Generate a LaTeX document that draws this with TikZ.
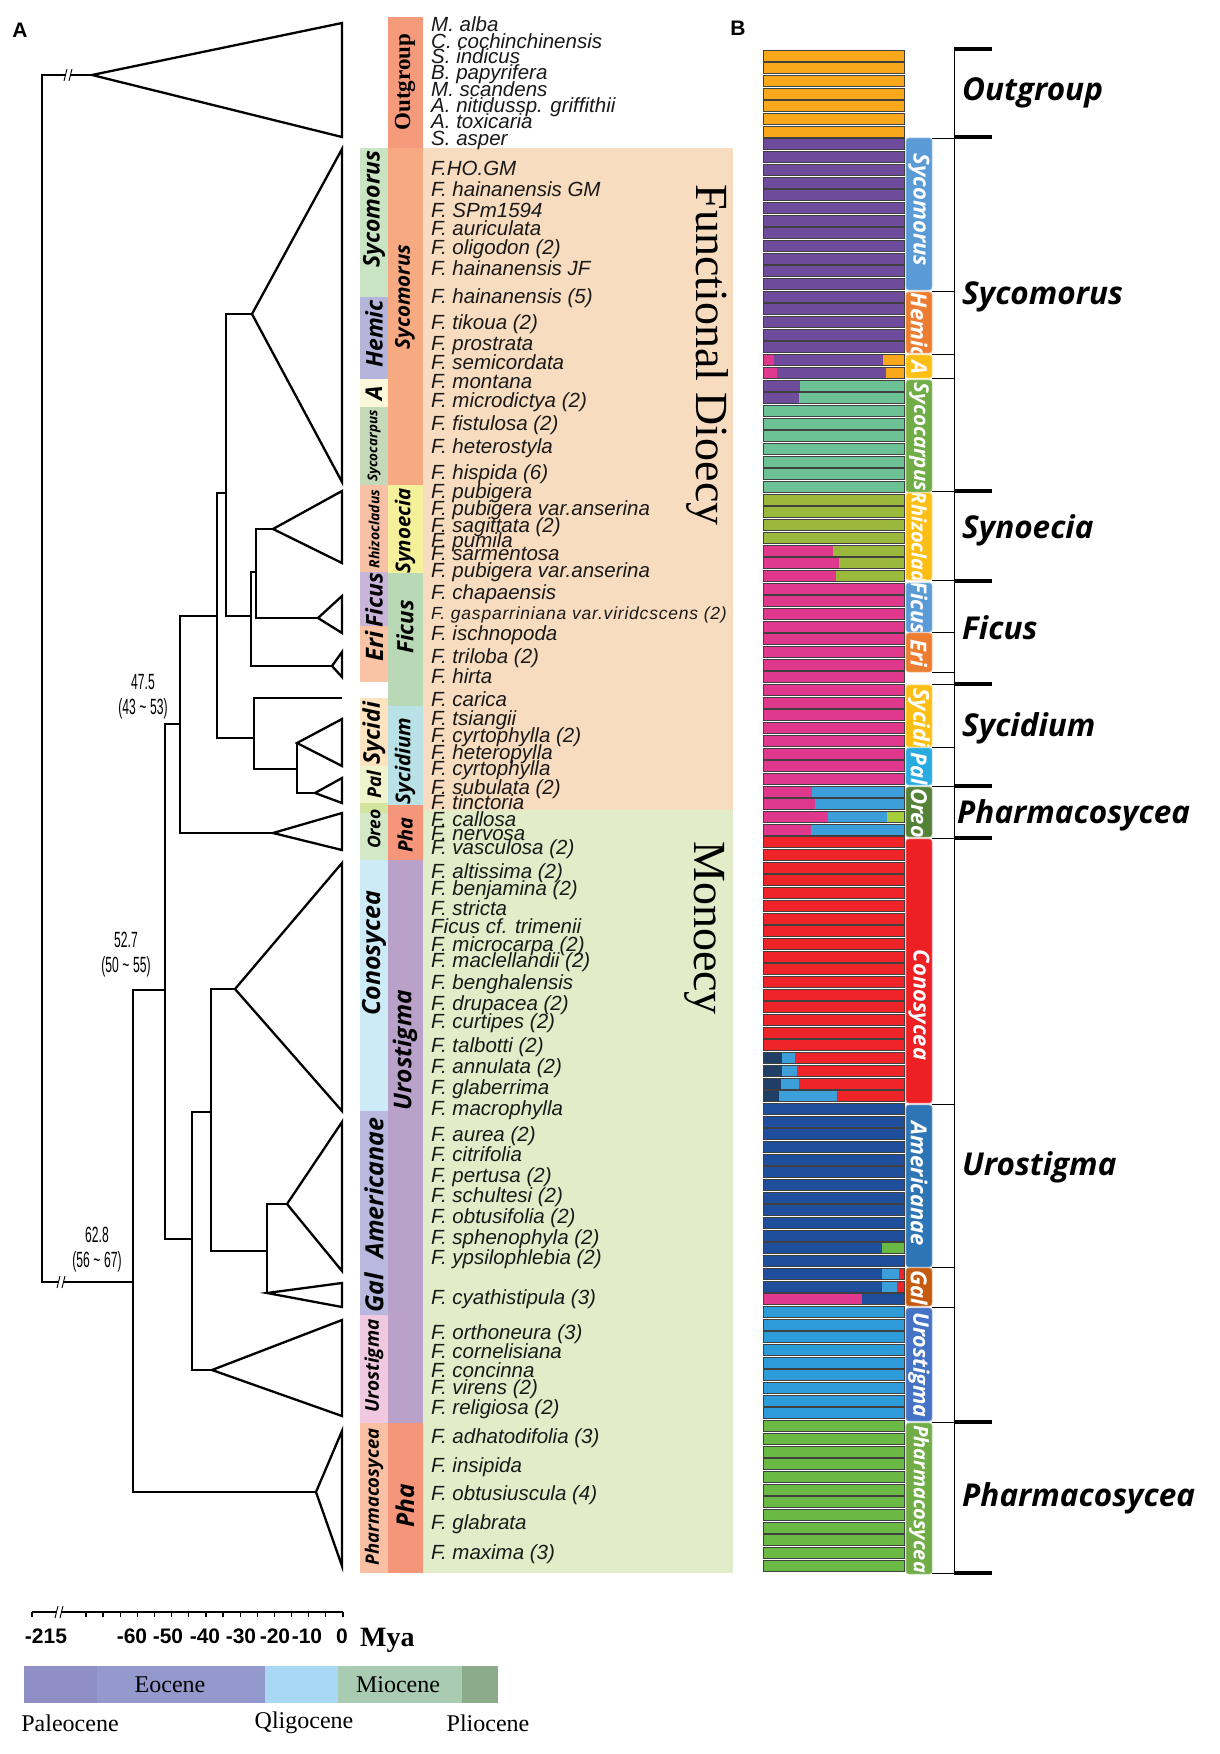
\documentclass[tikz,border=0pt]{standalone}
\usepackage{fontspec}
\setmainfont{Liberation Serif}
\setsansfont{Liberation Sans}
\newfontfamily\labfont{Open Sans}
\newfontfamily\narrowfont[FakeStretch=0.55]{Liberation Sans}
\usetikzlibrary{positioning}
% panel A
\definecolor{dioecy}{HTML}{F8DCBF}
\definecolor{monoecy}{HTML}{E3ECC8}
\definecolor{aSy}{HTML}{C9E4C3}\definecolor{aHe}{HTML}{B5B5DC}\definecolor{aA}{HTML}{FCF8DC}
\definecolor{aSc}{HTML}{C5D9B9}\definecolor{aRh}{HTML}{F8C1A6}\definecolor{aFi}{HTML}{C9B5DA}
\definecolor{aEr}{HTML}{F9C3A5}\definecolor{aSd}{HTML}{FDE3BF}\definecolor{aPa}{HTML}{F0F4CC}
\definecolor{aBd}{HTML}{D5E3A0}\definecolor{aOr}{HTML}{D2E8C6}\definecolor{aCo}{HTML}{CDEBF6}
\definecolor{aAm}{HTML}{B9B8DE}\definecolor{aUr}{HTML}{F0C8E0}\definecolor{aPh}{HTML}{FBC0A3}
\definecolor{bOut}{HTML}{F59A7B}\definecolor{bSy}{HTML}{F7A982}\definecolor{bSn}{HTML}{F5F19B}
\definecolor{bFi}{HTML}{B8D8B6}\definecolor{bSd}{HTML}{B8E2E6}\definecolor{bPh}{HTML}{F5967A}
\definecolor{bUr}{HTML}{B9A1CA}
% panel B bars
\definecolor{cOr}{HTML}{F9A81B}\definecolor{cPu}{HTML}{6E4C9B}\definecolor{cPk}{HTML}{E0388D}
\definecolor{cTe}{HTML}{6CC295}\definecolor{cOl}{HTML}{9AB93C}\definecolor{cLb}{HTML}{3D9FDA}
\definecolor{cLi}{HTML}{A5CF3A}\definecolor{cRe}{HTML}{EE2428}\definecolor{cNv}{HTML}{213E67}
\definecolor{cBl}{HTML}{1F4E9C}\definecolor{cGr}{HTML}{6AB944}\definecolor{cUb}{HTML}{2D9BD7}
% panel B tabs
\definecolor{tBl}{HTML}{5B9BD5}\definecolor{tOr}{HTML}{ED7D31}\definecolor{tGo}{HTML}{FDBE16}
\definecolor{tGr}{HTML}{70AD47}\definecolor{tSk}{HTML}{29ABE2}\definecolor{tDg}{HTML}{538135}
\definecolor{tRe}{HTML}{ED2024}\definecolor{tAm}{HTML}{2E75B6}\definecolor{tBr}{HTML}{C55A11}
\definecolor{tUr}{HTML}{4472C4}
% epochs
\definecolor{ePa}{HTML}{8F8FC6}\definecolor{eEo}{HTML}{9399CC}\definecolor{eOl}{HTML}{A8D8F3}
\definecolor{eMi}{HTML}{A9CBB1}\definecolor{ePl}{HTML}{8CAB88}

% one admixture bar: row index, list of end-fraction/colour
\newcommand\barrow[2]{%
  \pgfmathsetmacro\bartop{50+12.69*#1}%
  \foreach \fr/\bc [remember=\fr as \lf (initially 0)] in {#2}{%
    \fill[\bc] ({763+141*\lf},\bartop) rectangle ({763+141*\fr},{\bartop+11});}%
  \draw[barline] (763,\bartop) rectangle (904,{\bartop+11});%
}

\begin{document}
\begin{tikzpicture}[x=1pt, y=-1pt,
  tree/.style={line width=2.3pt},
  tri/.style={line width=2.3pt, line join=miter},
  brk/.style={line width=0.9pt},
  sp/.style={anchor=mid west, inner sep=0pt, yshift=-4pt, text=black!90, font=\sffamily\itshape\fontsize{20.5}{20.5}\selectfont},
  clab/.style={rotate=90, inner sep=0pt, font=\labfont\bfseries\itshape\fontsize{#1}{#1}\selectfont},
  tablab/.style={rotate=-90, inner sep=0pt, text=white, font=\labfont\bfseries\itshape\fontsize{#1}{#1}\selectfont},
  grp/.style={anchor=west, inner sep=0pt, font=\labfont\bfseries\itshape\fontsize{31.5}{31.5}\selectfont},
  age/.style={align=center, inner sep=0pt, font=\narrowfont\fontsize{22}{25}\selectfont},
  barline/.style={draw=black!75, line width=0.8pt},
  axlab/.style={inner sep=0pt, font=\sffamily\bfseries\fontsize{21}{21}\selectfont},
  epoch/.style={inner sep=0pt, font=\fontsize{24}{24}\selectfont}]
\useasboundingbox[fill=white] (0,0) rectangle (1220,1754);

% ---------- A: coloured columns and name panel
\fill[dioecy] (423,148) rectangle (733,810);
\fill[monoecy] (423,810) rectangle (733,1573);
\foreach \ya/\yb/\cc in {148/297/aSy, 297/379/aHe, 379/407/aA, 407/485/aSc, 485/572/aRh,
  572/626/aFi, 626/682/aEr, 698/766/aSd, 766/803/aPa, 803/813/aBd, 813/860/aOr,
  860/1111/aCo, 1111/1315/aAm, 1315/1423/aUr, 1423/1573/aPh}
  \fill[\cc] (360,\ya) rectangle (388,\yb);
\foreach \ya/\yb/\cc in {17/148/bOut, 148/485/bSy, 485/573/bSn, 573/706/bFi, 706/805/bSd,
  805/860/bPh, 860/1423/bUr, 1423/1573/bPh}
  \fill[\cc] (388,\ya) rectangle (423,\yb);

% column labels
\foreach \y/\t/\s [count=\k] in {209/Sycomorus/23, 334/Hemic/23, 393/A/23, 446/Sycocarpus/13.5,
  529/Rhizocladus/14, 600/Ficus/23, 646/Eri/24, 733/Sycidi/23, 785/Pal/19, 829/Oreo/17.5,
  953/Conosycea/25, 1188/Americanae/25, 1293/Gal/25, 1366/Urostigma/19, 1497/Pharmacosycea/18.5}
  \node[clab=\s] (ca\k) at (374,\y) {\t};
\node[rotate=90, inner sep=0pt, font=\bfseries\fontsize{23}{23}\selectfont] (cout) at (405,82) {Outgroup};
\foreach \y/\t/\s [count=\k] in {297/Sycomorus/20.5, 531/Synoecia/20.5, 627/Ficus/22.5, 761/Sycidium/20.5,
  835/Pha/20, 1050/Urostigma/24.5, 1506/Pha/24.5}
  \node[clab=\s] (cb\k) at (405,\y) {\t};

\node[rotate=-90, inner sep=0pt, font=\fontsize{46}{46}\selectfont] (dio) at (707,355) {Functional Dioecy};
\node[rotate=-90, inner sep=0pt, font=\fontsize{46}{46}\selectfont] (mon) at (705,928) {Monoecy};

% species
\foreach \y/\t [count=\k] in {25/M. alba, 42/C. cochinchinensis, 57/S. indicus, 73/B. papyrifera,
  90/M. scandens, 106/A. nitidussp. griffithii, 122/A. toxicaria, 139/S. asper,
  169/F.HO.GM, 190/F. hainanensis GM, 211/F. SPm1594, 229/F. auriculata, 248/F. oligodon (2),
  269/F. hainanensis JF, 297/F. hainanensis (5), 323/F. tikoua (2), 344/F. prostrata,
  363/F. semicordata, 382/F. montana, 401/F. microdictya (2), 424/F. fistulosa (2),
  447/F. heterostyla, 473/F. hispida (6), 492/F. pubigera, 509/F. pubigera var.anserina,
  526/F. sagittata (2), 541/F. pumila, 554/F. sarmentosa, 571/F. pubigera var.anserina,
  593/F. chapaensis, 634/F. ischnopoda, 657/F. triloba (2), 677/F. hirta, 700/F. carica,
  719/F. tsiangii, 736/F. cyrtophylla (2), 753/F. heteropylla, 769/F. cyrtophylla,
  788/F. subulata (2), 803/F. tinctoria, 820/F. callosa, 834/F. nervosa, 848/F. vasculosa (2),
  872/F. altissima (2), 889/F. benjamina (2), 909/F. stricta, 927/Ficus cf. trimenii,
  945/F. microcarpa (2), 961/F. maclellandii (2), 983/F. benghalensis, 1004/F. drupacea (2),
  1022/F. curtipes (2), 1046/F. talbotti (2), 1067/F. annulata (2), 1088/F. glaberrima,
  1109/F. macrophylla, 1135/F. aurea (2), 1155/F. citrifolia, 1176/F. pertusa (2),
  1196/F. schultesi (2), 1217/F. obtusifolia (2), 1238/F. sphenophyla (2), 1258/F. ypsilophlebia (2),
  1298/F. cyathistipula (3), 1333/F. orthoneura (3), 1352/F. cornelisiana, 1371/F. concinna,
  1388/F. virens (2), 1408/F. religiosa (2), 1437/F. adhatodifolia (3), 1466/F. insipida,
  1494/F. obtusiuscula (4), 1523/F. glabrata, 1553/F. maxima (3)}
  \node[sp] (sp\k) at (431,\y) {\t};
\node[sp, font=\sffamily\itshape\fontsize{17.5}{17.5}\selectfont\addfontfeature{LetterSpace=4.5}] (gasp) at (431,613) {F. gasparriniana var.viridcscens (2)};

% ---------- A: tree
\coordinate (og) at (92,75);    \coordinate (r) at (42,75);
\coordinate (n628) at (133,1282); \coordinate (pha) at (316,1492);
\coordinate (n527) at (165,990);  \coordinate (n475) at (180,724);
\coordinate (oreo) at (273,833);  \coordinate (nA) at (217,616);
\coordinate (nB) at (226,493);    \coordinate (syc) at (252,314);
\coordinate (nC) at (251,616);    \coordinate (nD) at (256,572);
\coordinate (rhi) at (273,529);   \coordinate (fic) at (318,618);
\coordinate (eri) at (332,666);   \coordinate (nE) at (254,738);
\coordinate (car) at (342,698);   \coordinate (nF) at (297,769);
\coordinate (syd) at (297,743);   \coordinate (pal) at (315,793);
\coordinate (nG) at (192,1239);   \coordinate (nH) at (211,1112);
\coordinate (con) at (235,989);   \coordinate (nI) at (267,1251);
\coordinate (ame) at (287,1204);  \coordinate (gal) at (267,1293);
\coordinate (uro) at (212,1370);
\draw[tree] (og) -| (r) |- (n628);
\draw[tree] (pha) -| (n628) |- (n527);
\draw[tree] (n475) -| (n527) |- (nG);
\draw[tree] (nA) -| (n475) |- (oreo);
\draw[tree] (nB) -| (nA) |- (nE);
\draw[tree] (syc) -| (nB) |- (nC);
\draw[tree] (nD) -| (nC) |- (eri);
\draw[tree] (rhi) -| (nD) |- (fic);
\draw[tree] (car) -| (nE) |- (nF);
\draw[tree] (syd) -| (nF) |- (pal);
\draw[tree] (nH) -| (nG) |- (uro);
\draw[tree] (con) -| (nH) |- (nI);
\draw[tree] (ame) -| (nI) |- (gal);
\foreach \a/\t/\b in {og/23/137, syc/149/482, rhi/491/563, fic/596/633, eri/652/677, syd/719/766,
  pal/778/803, oreo/813/850, con/863/1111, ame/1122/1271, gal/1283/1307, uro/1320/1416, pha/1431/1566}
  \draw[tri] (\a) -- (342,\t) -- (342,\b) -- cycle;
% break marks
\fill[white] (66,72) rectangle (71,78);
\draw[brk] (64,81) -- (67,69) (69,81) -- (72,69);
\fill[white] (59,1279) rectangle (64,1285);
\draw[brk] (57,1288) -- (60,1276) (62,1288) -- (65,1276);

% ages
\node[age] (a475) at (143,697) {47.5\\(43\,\textasciitilde\,53)};
\node[age] (a527) at (126,955) {52.7\\(50\,\textasciitilde\,55)};
\node[age] (a628) at (97,1250) {62.8\\(56\,\textasciitilde\,67)};

% ---------- time axis and epochs
\draw[line width=1.8pt] (32,1612) -- (343,1612);
\draw[line width=1.3pt] (32,1612) -- (32,1617);
\foreach \k in {0,...,15} \draw[line width=1.3pt] ({86+17.13*\k},1612) -- ({86+17.13*\k},1617);
\fill[white] (57,1608) rectangle (61,1616);
\draw[brk] (55,1618) -- (58,1606) (60,1618) -- (63,1606);
\foreach \x/\t [count=\k] in {46/-215, 132/-60, 168/-50, 205/-40, 241/-30, 275/-20, 307/-10, 342/0}
  \node[axlab] (ax\k) at (\x,1636) {\t};
\node[anchor=west, inner sep=0pt, font=\bfseries\fontsize{28}{28}\selectfont] (mya) at (360,1640) {Mya};
\fill[ePa] (24,1666) rectangle (97,1703);
\fill[eEo] (97,1666) rectangle (265,1703);
\fill[eOl] (265,1666) rectangle (338,1703);
\fill[eMi] (338,1666) rectangle (462,1703);
\fill[ePl] (462,1666) rectangle (498,1703);
\node[epoch] (eo) at (170,1685) {Eocene};
\node[epoch] (mi) at (398,1685) {Miocene};
\node[epoch] (pa) at (70,1723) {Paleocene};
\node[epoch] (ol) at (304,1723) {Qligocene};
\node[epoch] (pl) at (488,1723) {Pliocene};

% panel letters
\node[inner sep=0pt, font=\sffamily\bfseries\fontsize{21}{21}\selectfont] (pA) at (20,30) {A};
\node[inner sep=0pt, font=\sffamily\bfseries\fontsize{21}{21}\selectfont] (pB) at (738,28) {B};

% ---------- B: admixture bars
\foreach \i in {0,...,6} {\barrow{\i}{1/cOr}}
\foreach \i in {7,...,23} {\barrow{\i}{1/cPu}}
\barrow{24}{0.078/cPk,0.853/cPu,1/cOr}
\barrow{25}{0.099/cPk,0.875/cPu,1/cOr}
\barrow{26}{0.262/cPu,1/cTe}
\barrow{27}{0.255/cPu,1/cTe}
\foreach \i in {28,...,34} {\barrow{\i}{1/cTe}}
\foreach \i in {35,...,38} {\barrow{\i}{1/cOl}}
\barrow{39}{0.496/cPk,1/cOl}
\barrow{40}{0.537/cPk,1/cOl}
\barrow{41}{0.518/cPk,1/cOl}
\foreach \i in {42,...,57} {\barrow{\i}{1/cPk}}
\barrow{58}{0.348/cPk,1/cLb}
\barrow{59}{0.369/cPk,1/cLb}
\barrow{60}{0.459/cPk,0.882/cLb,1/cLi}
\barrow{61}{0.340/cPk,1/cLb}
\foreach \i in {62,...,78} {\barrow{\i}{1/cRe}}
\barrow{79}{0.137/cNv,0.229/cLb,1/cRe}
\barrow{80}{0.137/cNv,0.241/cLb,1/cRe}
\barrow{81}{0.130/cNv,0.255/cLb,1/cRe}
\barrow{82}{0.113/cNv,0.525/cLb,1/cRe}
\foreach \i in {83,...,93,95} {\barrow{\i}{1/cBl}}
\barrow{94}{0.844/cBl,1/cGr}
\barrow{96}{0.846/cBl,0.965/cLb,1/cRe}
\barrow{97}{0.846/cBl,0.950/cLb,1/cRe}
\barrow{98}{0.700/cPk,1/cBl}
\foreach \i in {99,...,107} {\barrow{\i}{1/cUb}}
\foreach \i in {108,...,119} {\barrow{\i}{1/cGr}}

% ---------- B: section tabs
\foreach \ya/\yb/\tcol/\tn/\ym/\ts [count=\k] in {138/290/tBl/Sycomorus/210/22, 292/353/tOr/Hemic/325/22,
  355/378/tGo/A/367/22, 380/492/tGr/Sycocarpus/437/20.5, 493/580/tGo/Rhizoclad/537/20, 583/632/tBl/Ficus/608/22,
  633/672/tOr/Eri/653/22, 685/747/tGo/Sycidi/718/22, 748/785/tSk/Pal/769/22, 787/837/tDg/Oreo/813/22,
  839/1103/tRe/Conosycea/1005/22, 1105/1267/tAm/Americanae/1184/22, 1268/1306/tBr/Gal/1288/22,
  1308/1421/tUr/Urostigma/1365/21.5, 1423/1574/tGr/Pharmacosycea/1499/20}{
  \begin{scope}
    \clip[rounded corners=3pt] (906,\ya) rectangle (932,\yb);
    \fill[\tcol] (906,\ya) rectangle (932,\yb);
    \node[tablab=\ts] (tab\k) at (919,\ym) {\tn};
  \end{scope}
  \draw[rounded corners=3pt, \tcol!70!white, line width=0.8pt] (906,\ya) rectangle (932,\yb);
}

% ---------- B: brackets and group names
\draw[line width=1pt] (954,49) -- (954,1573);
\foreach \y in {138,291,354,378,491,580,632,672,684,747,786,838,1104,1267,1307,1422,1573}
  \draw[line width=1pt] (932,\y) -- (955,\y);
\foreach \y in {49,137,491,581,684,786,838,1422,1573}
  \draw[line width=3.5pt] (954,\y) -- (992,\y);
\foreach \y/\t [count=\k] in {93/Outgroup, 297/Sycomorus, 530/Synoecia, 628/Ficus, 728/Sycidium,
  1167/Urostigma, 1498/Pharmacosycea}
  \node[grp] (g\k) at (962,\y) {\t};
\node[grp] (g8) at (957,815) {Pharmacosycea};
\end{tikzpicture}
\end{document}
